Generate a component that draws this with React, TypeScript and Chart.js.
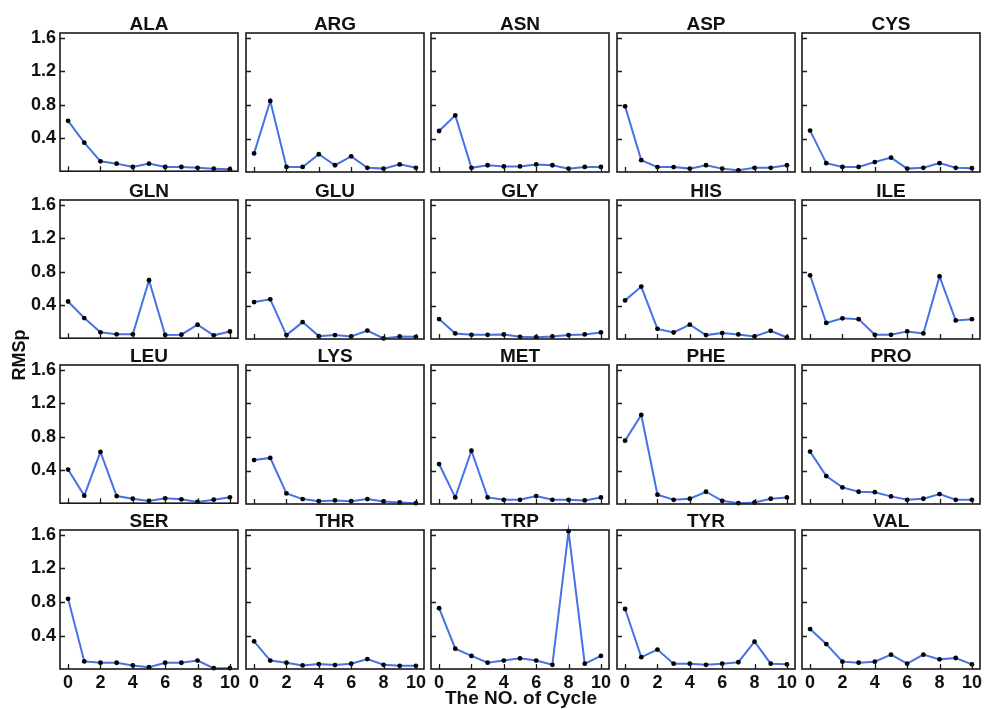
import React, { useEffect, useRef } from "react";
import { Chart, registerables } from "chart.js";

Chart.register(...registerables);

// Cycle index on the x axis and the tick values shown on each panel
const cycles = [0, 1, 2, 3, 4, 5, 6, 7, 8, 9, 10];
const xTickValues = [0, 2, 4, 6, 8, 10];
const yTickValues = [0.4, 0.8, 1.2, 1.6];

// RMSp per cycle for each amino-acid residue
const ALA = [0.61, 0.35, 0.128, 0.1, 0.06, 0.1, 0.06, 0.06, 0.05, 0.04, 0.033];
const ARG = [0.23, 0.85, 0.07, 0.07, 0.22, 0.09, 0.195, 0.06, 0.05, 0.1, 0.06];
const ASN = [0.495, 0.68, 0.06, 0.09, 0.076, 0.076, 0.1, 0.09, 0.05, 0.07, 0.07];
const ASP = [0.787, 0.15, 0.068, 0.068, 0.05, 0.09, 0.05, 0.03, 0.06, 0.06, 0.09];
const CYS = [0.5, 0.115, 0.07, 0.07, 0.128, 0.18, 0.05, 0.06, 0.115, 0.06, 0.055];
const GLN = [0.447, 0.25, 0.08, 0.056, 0.056, 0.7, 0.048, 0.052, 0.17, 0.044, 0.09];
const GLU = [0.447, 0.48, 0.056, 0.21, 0.044, 0.056, 0.04, 0.11, 0.017, 0.04, 0.036];
const GLY = [0.246, 0.076, 0.06, 0.06, 0.064, 0.036, 0.032, 0.04, 0.056, 0.064, 0.088];
const HIS = [0.467, 0.63, 0.13, 0.087, 0.18, 0.056, 0.08, 0.064, 0.04, 0.107, 0.028];
const ILE = [0.764, 0.2, 0.255, 0.245, 0.06, 0.06, 0.1, 0.076, 0.75, 0.23, 0.245];
const LEU = [0.41, 0.1, 0.62, 0.095, 0.064, 0.036, 0.068, 0.056, 0.025, 0.052, 0.08];
const LYS = [0.53, 0.555, 0.135, 0.068, 0.044, 0.052, 0.044, 0.068, 0.04, 0.028, 0.02];
const MET = [0.483, 0.088, 0.64, 0.088, 0.06, 0.06, 0.104, 0.06, 0.06, 0.052, 0.088];
const PHE = [0.76, 1.064, 0.12, 0.06, 0.072, 0.155, 0.048, 0.02, 0.028, 0.072, 0.088];
const PRO = [0.63, 0.34, 0.206, 0.155, 0.15, 0.1, 0.06, 0.072, 0.127, 0.06, 0.06];
const SER = [0.84, 0.1, 0.084, 0.084, 0.052, 0.032, 0.084, 0.084, 0.11, 0.02, 0.02];
const THR = [0.337, 0.11, 0.084, 0.052, 0.068, 0.056, 0.072, 0.127, 0.06, 0.048, 0.048];
const TRP = [0.73, 0.25, 0.165, 0.085, 0.11, 0.136, 0.11, 0.06, 1.64, 0.073, 0.165];
const TYR = [0.72, 0.15, 0.24, 0.073, 0.073, 0.06, 0.073, 0.09, 0.333, 0.073, 0.065];
const VAL = [0.483, 0.305, 0.097, 0.085, 0.097, 0.18, 0.073, 0.18, 0.124, 0.14, 0.065];

const residueNames = [
  "ALA", "ARG", "ASN", "ASP", "CYS",
  "GLN", "GLU", "GLY", "HIS", "ILE",
  "LEU", "LYS", "MET", "PHE", "PRO",
  "SER", "THR", "TRP", "TYR", "VAL",
];
const residueSeries = [
  ALA, ARG, ASN, ASP, CYS,
  GLN, GLU, GLY, HIS, ILE,
  LEU, LYS, MET, PHE, PRO,
  SER, THR, TRP, TYR, VAL,
];

const FONT = "'Liberation Sans', Arial, Helvetica, sans-serif";
const LINE_COLOR = "#4672e6";
const INK = "#111111";

// Grid geometry (plot boxes)
const COL_LEFT = [60, 246, 431, 617, 802];
const ROW_TOP = [33, 200, 365, 530];
const BOX_W = 178;
const BOX_H = 139;

// Frame around each plot box plus inward-pointing tick marks
const framePlugin = {
  id: "panelFrame",
  afterDraw(chart: any) {
    const { ctx, chartArea: a, scales } = chart;
    ctx.save();
    ctx.strokeStyle = "#1a1a1a";
    ctx.lineWidth = 1.6;
    ctx.strokeRect(a.left, a.top, a.right - a.left, a.bottom - a.top);
    ctx.lineWidth = 1.3;
    ctx.beginPath();
    scales.x.ticks.forEach((t: any) => {
      const px = Math.round(scales.x.getPixelForValue(t.value)) + 0.5;
      ctx.moveTo(px, a.bottom);
      ctx.lineTo(px, a.bottom - 5);
    });
    scales.y.ticks.forEach((t: any) => {
      const py = Math.round(scales.y.getPixelForValue(t.value)) + 0.5;
      ctx.moveTo(a.left, py);
      ctx.lineTo(a.left + 5, py);
    });
    ctx.stroke();
    ctx.restore();
  },
};

type PanelProps = { name: string; values: number[]; row: number; col: number };

function Panel({ name, values, row, col }: PanelProps) {
  const ref = useRef<HTMLCanvasElement>(null);
  const yW = col === 0 ? 60 : 10;
  const padTop = 22;
  const padRight = 14;
  const xH = row === 3 ? 36 : 14;
  const w = yW + BOX_W + padRight;
  const h = padTop + BOX_H + xH;

  useEffect(() => {
    if (!ref.current) return;
    const chart = new Chart(ref.current, {
      type: "line",
      data: {
        datasets: [
          {
            label: name,
            data: cycles.map((c, i) => ({ x: c, y: values[i] })),
            borderColor: LINE_COLOR,
            borderWidth: 2,
            pointRadius: 2.4,
            pointBackgroundColor: "#000",
            pointBorderWidth: 0,
            tension: 0,
            clip: 8,
          } as any,
        ],
      },
      options: {
        responsive: false,
        animation: false,
        devicePixelRatio: 1,
        layout: { padding: { top: padTop, right: padRight, left: 0, bottom: 0 } },
        plugins: {
          legend: { display: false },
          tooltip: { enabled: false },
          title: { display: false },
        },
        scales: {
          x: {
            type: "linear",
            min: -0.5,
            max: 10.5,
            grid: { display: false, drawTicks: false },
            border: { display: false },
            afterBuildTicks: (s: any) => {
              s.ticks = xTickValues.map((v) => ({ value: v }));
            },
            afterFit: (s: any) => {
              s.height = xH;
            },
            ticks: {
              display: row === 3,
              padding: 3,
              maxRotation: 0,
              autoSkip: false,
              color: INK,
              font: { family: FONT, size: 18, weight: "bold" },
              callback: (v: any) => String(v),
            },
          },
          y: {
            type: "linear",
            min: 0.01,
            max: 1.655,
            grid: { display: false, drawTicks: false },
            border: { display: false },
            afterBuildTicks: (s: any) => {
              s.ticks = yTickValues.map((v) => ({ value: v }));
            },
            afterFit: (s: any) => {
              s.width = yW;
            },
            ticks: {
              display: col === 0,
              padding: 4,
              color: INK,
              font: { family: FONT, size: 18, weight: "bold" },
              callback: (v: any) => Number(v).toFixed(1),
            },
          },
        },
      } as any,
      plugins: [framePlugin],
    });
    return () => chart.destroy();
  }, []);

  return (
    <canvas
      ref={ref}
      width={w}
      height={h}
      style={{
        position: "absolute",
        left: COL_LEFT[col] - yW,
        top: ROW_TOP[row] - padTop,
        width: w,
        height: h,
      }}
    />
  );
}

export default function App() {
  return (
    <div
      style={{
        position: "absolute",
        left: 0,
        top: 0,
        width: 987,
        height: 709,
        background: "#fff",
        overflow: "hidden",
        fontFamily: FONT,
        color: INK,
      }}
    >
      {residueNames.map((name, i) => {
        const row = Math.floor(i / 5);
        const col = i % 5;
        return <Panel key={name} name={name} values={residueSeries[i]} row={row} col={col} />;
      })}
      {residueNames.map((name, i) => {
        const row = Math.floor(i / 5);
        const col = i % 5;
        return (
          <div
            key={"t" + name}
            style={{
              position: "absolute",
              left: COL_LEFT[col],
              top: ROW_TOP[row] - 20,
              width: BOX_W,
              height: 22,
              lineHeight: "22px",
              fontSize: 19,
              fontWeight: "bold",
              textAlign: "center",
            }}
          >
            {name}
          </div>
        );
      })}
      <div
        style={{
          position: "absolute",
          left: 19 - 40,
          top: 355 - 11,
          width: 80,
          height: 22,
          lineHeight: "22px",
          fontSize: 18,
          fontWeight: "bold",
          textAlign: "center",
          transform: "rotate(-90deg)",
        }}
      >
        RMSp
      </div>
      <div
        style={{
          position: "absolute",
          left: 521 - 120,
          top: 687,
          width: 240,
          height: 22,
          lineHeight: "22px",
          fontSize: 19,
          fontWeight: "bold",
          textAlign: "center",
        }}
      >
        The NO. of Cycle
      </div>
    </div>
  );
}
